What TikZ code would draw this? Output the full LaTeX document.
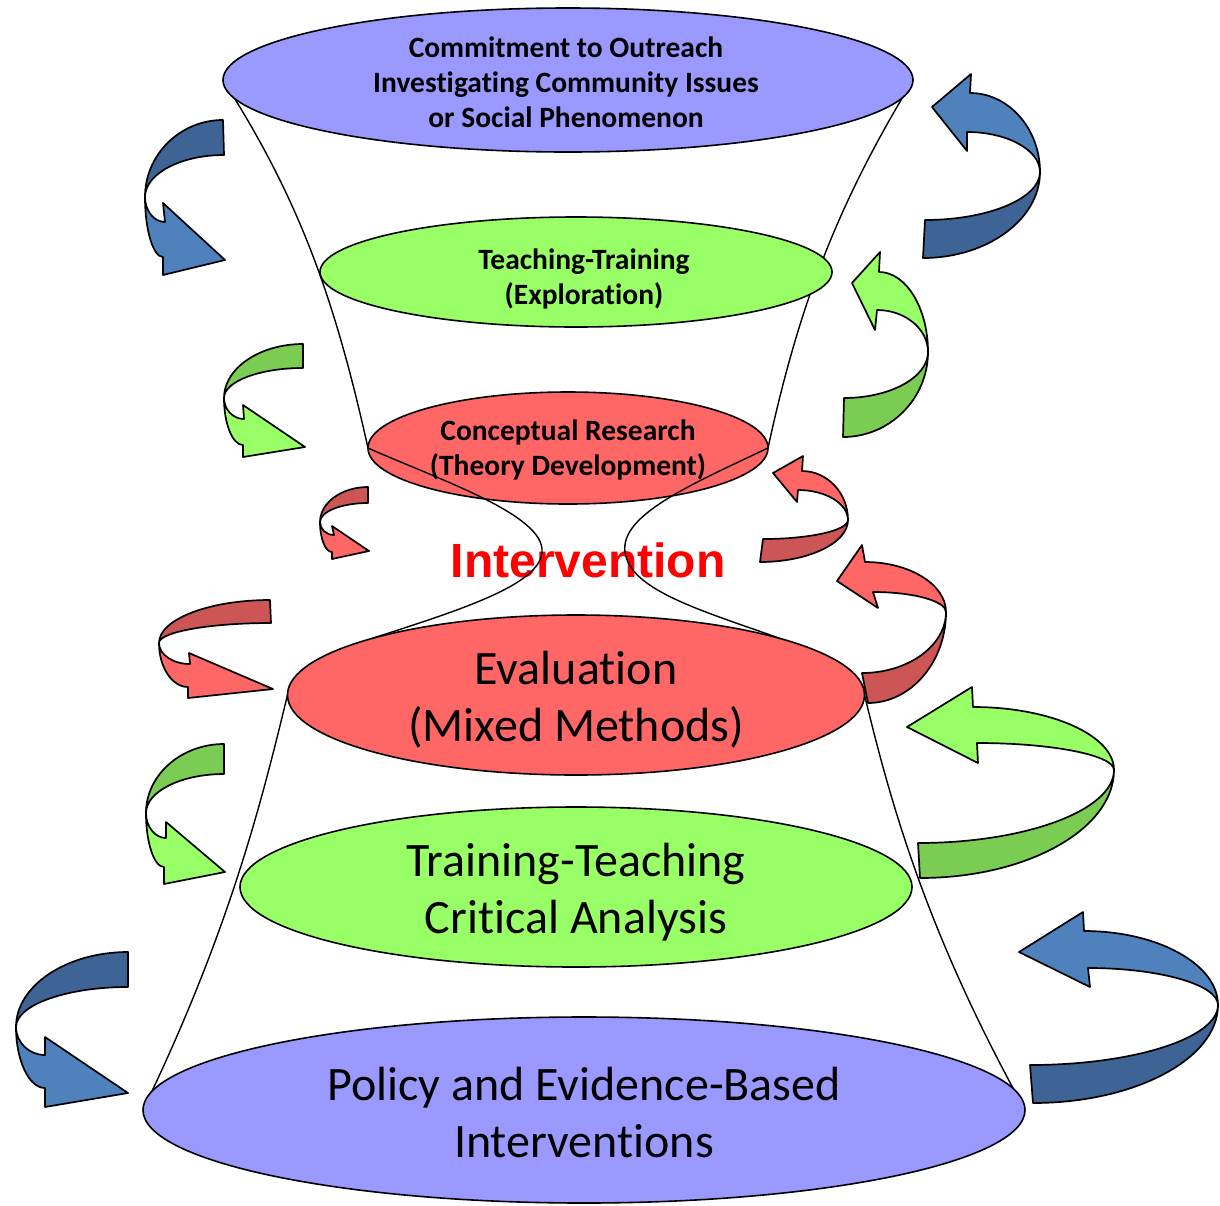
\documentclass[tikz,border=0pt]{standalone}
\usepackage{fontspec}
\setmainfont{Carlito}[Ligatures=NoCommon]
\newfontfamily\arialfont{Liberation Sans}
\usepackage{tikz}
\usetikzlibrary{shapes.geometric,calc,backgrounds}
\definecolor{ovalblue}{RGB}{153,153,255}
\definecolor{ovalgreen}{RGB}{153,255,102}
\definecolor{ovalred}{RGB}{255,102,102}
\definecolor{bluelight}{RGB}{79,129,189}
\definecolor{bluedark}{RGB}{62,100,150}
\definecolor{greenlight}{RGB}{153,255,102}
\definecolor{greendark}{RGB}{122,204,82}
\definecolor{redlight}{RGB}{255,102,102}
\definecolor{reddark}{RGB}{204,85,85}
\definecolor{intervred}{RGB}{255,0,0}

\newcommand{\twistarrow}[9]{%
  \coordinate (t1) at (#2); \coordinate (t2) at (#3); \coordinate (f) at (#4);
  \coordinate (h1) at (#5); \coordinate (b1) at (#6); \coordinate (p) at (#7);
  \coordinate (b2) at (#8); \coordinate (h2) at (#9);
  \coordinate (t1f) at (t1 -| f); \coordinate (ft1) at (f |- t1);
  \coordinate (t2f) at (t2 -| f); \coordinate (ft2) at (f |- t2);
  \coordinate (h1f) at (h1 -| f); \coordinate (fh1) at (f |- h1);
  \coordinate (h2f) at (h2 -| f); \coordinate (fh2) at (f |- h2);
  \draw[twist,fill=#1dark] (t1) .. controls ($(t1)!0.55!(t1f)$) and ($(f)!0.55!(ft1)$) .. (f)
    .. controls ($(f)!0.55!(ft2)$) and ($(t2)!0.55!(t2f)$) .. (t2) -- cycle;
  \draw[twist,fill=#1light] (f) .. controls ($(f)!0.55!(fh1)$) and ($(h1)!0.55!(h1f)$) .. (h1)
    -- (b1) -- (p) -- (b2) -- (h2) .. controls ($(h2)!0.55!(h2f)$) and ($(f)!0.55!(fh2)$) .. (f) -- cycle;
}

\begin{document}
\begin{tikzpicture}[x=1bp,y=-1bp,inner sep=0pt,outer sep=0pt,
  oval/.style={ellipse,draw=black,line width=1.6bp,inner sep=0pt},
  smalltext/.style={align=center,font=\fontsize{29.5bp}{35bp}\selectfont\bfseries},
  bigtext/.style={align=center,font=\fontsize{48bp}{57bp}\selectfont},
  twist/.style={draw=black,line width=1.7bp,line join=round},
  funnel/.style={draw=black,line width=1.4bp}]
  \useasboundingbox (0,0) rectangle (1220,1206);
  \node[oval,fill=ovalblue,minimum width=690bp,minimum height=144bp] (outreach) at (568,80) {};
  \node[oval,fill=ovalgreen,minimum width=512bp,minimum height=110bp] (teaching) at (576,272) {};
  \node[oval,fill=ovalred,minimum width=400bp,minimum height=112bp] (conceptual) at (568,448) {};
  \node[oval,fill=ovalred,minimum width=577bp,minimum height=160bp] (evaluation) at (576,695) {};
  \node[oval,fill=ovalgreen,minimum width=672bp,minimum height=160bp] (training) at (576,887) {};
  \node[oval,fill=ovalblue,minimum width=882bp,minimum height=186bp] (policy) at (584,1110) {};
  \node[smalltext] (outreachtext) at (566,82) {Commitment to Outreach\\Investigating Community Issues\\or Social Phenomenon};
  \node[smalltext] (teachingtext) at (584,279) {Teaching-Training\\(Exploration)};
  \node[smalltext] (conceptualtext) at (568,450) {Conceptual Research\\(Theory Development)};
  \node[bigtext] (evaluationtext) at (576,700) {Evaluation\\(Mixed Methods)};
  \node[bigtext] (trainingtext) at (576,892) {Training-Teaching\\Critical Analysis};
  \node[bigtext] (policytext) at (584,1112) {Policy and Evidence-Based\\Interventions};
  \begin{scope}[on background layer]
    \draw[funnel] (outreach.west) .. controls (300,200) and (335,300) .. (conceptual.west);
    \draw[funnel] (outreach.east) .. controls (840,200) and (800,300) .. (conceptual.east);
    \draw[funnel] (evaluation.west) .. controls (262,800) and (230,930) .. (policy.west);
    \draw[funnel] (evaluation.east) .. controls (890,800) and (925,930) .. (policy.east);
  \end{scope}
  \node[text=intervred,font=\arialfont\bfseries\fontsize{48bp}{56bp}\selectfont] (intervention) at (588,560) {Intervention};
  \draw[funnel] (conceptual.west) .. controls (440,480) and (545,515) .. (542,552) .. controls (540,585) and (460,610) .. (evaluation.north west);
  \draw[funnel] (conceptual.east) .. controls (690,485) and (620,515) .. (625,552) .. controls (630,590) and (700,610) .. (evaluation.north east);
  \twistarrow{blue}{223,120}{224,155}{145,197}{163,257}{163,275}{225,260}{163,203}{165,222}
  \twistarrow{green}{303,344}{303,368}{224,398}{243,445}{243,457}{305,447}{243,405}{244,419}
  \twistarrow{red}{368,487}{368,503}{320,522}{332,552}{332,559}{369,551}{332,526}{334,535}
  \twistarrow{red}{270,600}{271,623}{159,643}{188,687}{188,698}{273,689}{189,653}{190,664}
  \twistarrow{green}{224,744}{224,774}{146,813}{164,867}{164,884}{225,872}{166,822}{166,838}
  \twistarrow{blue}{128,952}{128,987}{16,1027}{45,1088}{45,1107}{128,1093}{45,1037}{45,1055}
  \twistarrow{blue}{923,258}{925,220}{1040,172}{970,93}{971,74}{932,107}{967,151}{967,132}
  \twistarrow{green}{843,437}{844,398}{928,352}{879,272}{880,252}{852,283}{875,330}{877,310}
  \twistarrow{red}{760,562}{763,539}{848,520}{802,471}{803,456}{773,473}{797,502}{798,490}
  \twistarrow{red}{868,703}{862,673}{946,612}{865,562}{862,545}{837,581}{878,608}{873,592}
  \twistarrow{green}{920,878}{918,843}{1114,770}{973,707}{972,687}{907,727}{978,763}{977,743}
  \twistarrow{blue}{1033,1103}{1030,1065}{1218,1005}{1084,931}{1083,912}{1019,952}{1090,987}{1088,968}
\end{tikzpicture}
\end{document}
